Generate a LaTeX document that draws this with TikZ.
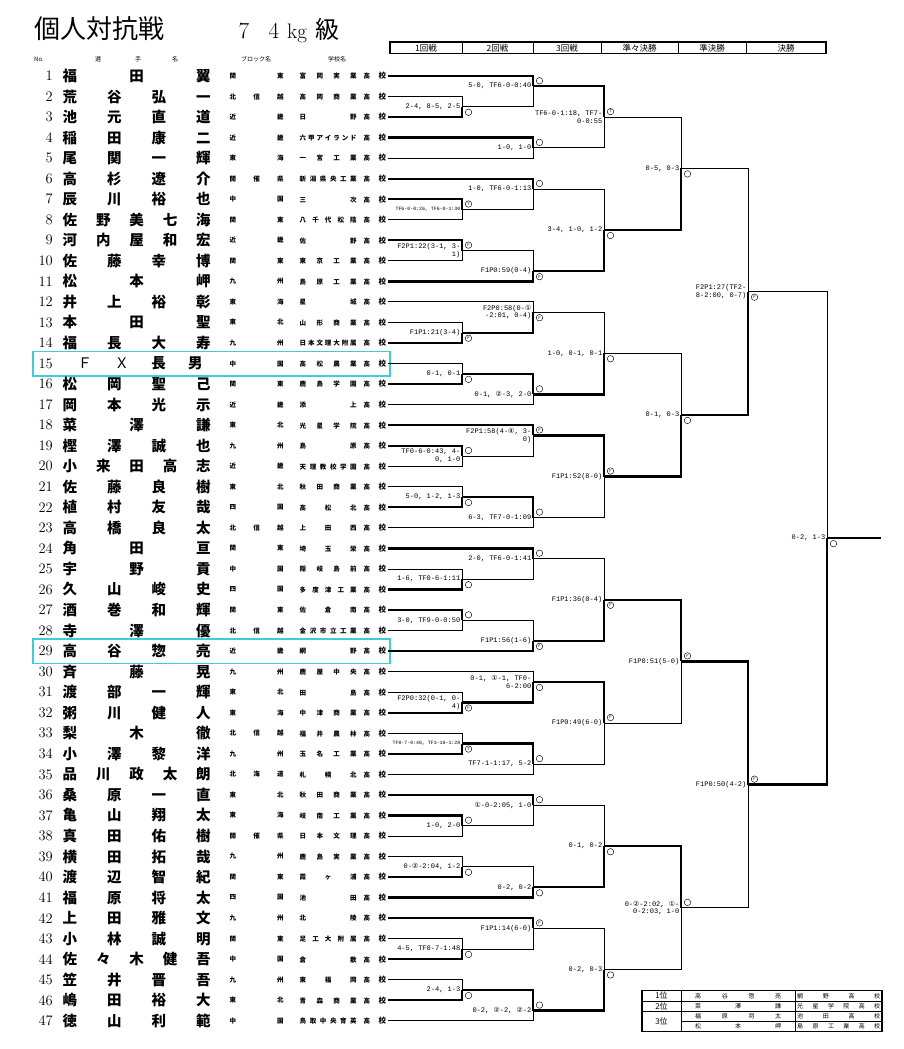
\documentclass[tikz,border=0pt]{standalone}
\usepackage{fontspec}
\newfontfamily\jp{Noto Sans CJK JP}
\newfontfamily\mono{Liberation Mono}
\newfontfamily\dejav{DejaVu Sans}
\newcommand\cn[1]{{\dejav #1}}
\newcommand\Y[1]{{76+(#1-1)*20.54}}
\tikzset{
  win/.style={line width=2.3pt},
  lose/.style={line width=0.9pt},
  lbl/.style={font=\mono\fontsize{7}{7.6}\selectfont, anchor=east, inner sep=0pt, align=right},
  mk/.style={circle, draw, line width=0.45pt, minimum size=6.5pt, inner sep=0pt, font=\sffamily\fontsize{4}{4}\selectfont},
  numf/.style={font=\fontsize{14.5}{14.5}\selectfont, anchor=east, inner sep=0pt},
  namef/.style={font=\jp\bfseries\fontsize{14.5}{14.5}\selectfont, anchor=west, inner sep=0pt},
  smallf/.style={font=\jp\bfseries\fontsize{6.5}{6.5}\selectfont, anchor=west, inner sep=0pt},
  colh/.style={font=\jp\fontsize{8.5}{8.5}\selectfont, inner sep=0pt},
  headf/.style={font=\jp\fontsize{6}{6}\selectfont, inner sep=0pt},
  resf/.style={font=\jp\fontsize{6}{6}\selectfont, anchor=west, inner sep=0pt},
  hl/.style={draw={rgb,255:red,60;green,205;blue,215}, line width=1.8pt},
}
\newcommand\pl[4]{%
  \node[numf] (n#1) at (53,\Y{#1}) {#1};
  \node[namef] (nm#1) at (62.5,\Y{#1}) {\hbox to 148pt{#2}};
  \node[smallf] (b#1) at (229.5,\Y{#1}) {\hbox to 54pt{#3}};
  \node[smallf] (s#1) at (299.5,\Y{#1}) {\hbox to 57pt{#4}\kern7pt 高\kern8.5pt{\fontsize{7.5}{7.5}\selectfont 校}};
  \coordinate (e#1) at (388,\Y{#1});
}
\newcommand\bmatch[8]{%
  \coordinate (#1) at (#4,\Y{#5});
  \if#6u
    \draw[lose] (#3) -- (#3 -| #1) -- (#1);
    \draw[win] (#2) -- (#2 -| #1) -- (#1);
    \node[mk] (#1s) at ([shift={(6.5,-5.5)}]#1) {#8};
  \else
    \draw[lose] (#2) -- (#2 -| #1) -- (#1);
    \draw[win] (#3) -- (#3 -| #1) -- (#1);
    \node[mk] (#1s) at ([shift={(6.5,5.5)}]#1) {#8};
  \fi
  \node[lbl] (#1t) at ([xshift=-1.5pt]#1) {#7};
}
\begin{document}
\begin{tikzpicture}[x=1pt,y=-1pt]
\fill[white] (0,0) rectangle (904,1049);
\useasboundingbox (0,0) rectangle (904,1049);

% title
\node[font=\jp\fontsize{26}{26}\selectfont, anchor=base west, inner sep=0pt] (title) at (34,39) {個人対抗戦};
\node[font=\fontsize{23}{23}\selectfont, anchor=base, inner sep=0pt] (t7) at (244,39) {7};
\node[font=\fontsize{23}{23}\selectfont, anchor=base, inner sep=0pt] (t4) at (274,39) {4};
\node[font=\fontsize{21}{21}\selectfont, anchor=base, inner sep=0pt] (tkg) at (297,39) {kg};
\node[font=\jp\fontsize{24}{24}\selectfont, anchor=base, inner sep=0pt] (tkyu) at (327,38) {級};

% round header table
\draw[line width=1.1pt] (390,42) rectangle (826,53.5);
\foreach \xx in {462,533,601,678,746} \draw[line width=0.6pt] (\xx,42) -- (\xx,53.5);
\node[colh] (h1) at (426,47.8) {1回戦};
\node[colh] (h2) at (497.5,47.8) {2回戦};
\node[colh] (h3) at (567,47.8) {3回戦};
\node[colh] (h4) at (639.5,47.8) {準々決勝};
\node[colh] (h5) at (712,47.8) {準決勝};
\node[colh] (h6) at (786,47.8) {決勝};

% column headings
\node[headf, anchor=west] (hno) at (34,59.5) {No.};
\node[headf] (hs1) at (98,59.5) {選};
\node[headf] (hs2) at (138,59.5) {手};
\node[headf] (hs3) at (175,59.5) {名};
\node[headf] (hblk) at (256,59.5) {ブロック名};
\node[headf] (hsch) at (337,59.5) {学校名};

% highlight boxes
\draw[hl] (33,\Y{14.41}) rectangle (390,\Y{15.59});
\draw[hl] (33,\Y{28.4}) rectangle (390,\Y{29.6});

% players
\pl{1}{福\hfill 田\hfill 翼}{関\hfill 東}{富\hfill 岡\hfill 実\hfill 業}
\pl{2}{荒\hfill 谷\hfill 弘\hfill 一}{北\hfill 信\hfill 越}{高\hfill 岡\hfill 商\hfill 業}
\pl{3}{池\hfill 元\hfill 直\hfill 道}{近\hfill 畿}{日\hfill 野}
\pl{4}{稲\hfill 田\hfill 康\hfill 二}{近\hfill 畿}{六\hfill 甲\hfill ア\hfill イ\hfill ラ\hfill ン\hfill ド}
\pl{5}{尾\hfill 関\hfill 一\hfill 輝}{東\hfill 海}{一\hfill 宮\hfill 工\hfill 業}
\pl{6}{高\hfill 杉\hfill 遼\hfill 介}{開\hfill 催\hfill 県}{新\hfill 潟\hfill 県\hfill 央\hfill 工\hfill 業}
\pl{7}{辰\hfill 川\hfill 裕\hfill 也}{中\hfill 国}{三\hfill 次}
\pl{8}{佐\hfill 野\hfill 美\hfill 七\hfill 海}{関\hfill 東}{八\hfill 千\hfill 代\hfill 松\hfill 陰}
\pl{9}{河\hfill 内\hfill 屋\hfill 和\hfill 宏}{近\hfill 畿}{佐\hfill 野}
\pl{10}{佐\hfill 藤\hfill 幸\hfill 博}{関\hfill 東}{東\hfill 京\hfill 工\hfill 業}
\pl{11}{松\hfill 本\hfill 岬}{九\hfill 州}{島\hfill 原\hfill 工\hfill 業}
\pl{12}{井\hfill 上\hfill 裕\hfill 彰}{東\hfill 海}{星\hfill 城}
\pl{13}{本\hfill 田\hfill 聖}{東\hfill 北}{山\hfill 形\hfill 商\hfill 業}
\pl{14}{福\hfill 長\hfill 大\hfill 寿}{九\hfill 州}{日\hfill 本\hfill 文\hfill 理\hfill 大\hfill 附\hfill 属}
\pl{15}{\kern15pt{\mdseries Ｆ}\hfill{\mdseries Ｘ}\hfill 長\hfill 男\kern8pt}{中\hfill 国}{高\hfill 松\hfill 農\hfill 業}
\pl{16}{松\hfill 岡\hfill 聖\hfill 己}{関\hfill 東}{鹿\hfill 島\hfill 学\hfill 園}
\pl{17}{岡\hfill 本\hfill 光\hfill 示}{近\hfill 畿}{添\hfill 上}
\pl{18}{菜\hfill 澤\hfill 謙}{東\hfill 北}{光\hfill 星\hfill 学\hfill 院}
\pl{19}{樫\hfill 澤\hfill 誠\hfill 也}{九\hfill 州}{島\hfill 原}
\pl{20}{小\hfill 来\hfill 田\hfill 高\hfill 志}{近\hfill 畿}{天\hfill 理\hfill 教\hfill 校\hfill 学\hfill 園}
\pl{21}{佐\hfill 藤\hfill 良\hfill 樹}{東\hfill 北}{秋\hfill 田\hfill 商\hfill 業}
\pl{22}{植\hfill 村\hfill 友\hfill 哉}{四\hfill 国}{高\hfill 松\hfill 北}
\pl{23}{高\hfill 橋\hfill 良\hfill 太}{北\hfill 信\hfill 越}{上\hfill 田\hfill 西}
\pl{24}{角\hfill 田\hfill 亘}{関\hfill 東}{埼\hfill 玉\hfill 栄}
\pl{25}{宇\hfill 野\hfill 貢}{中\hfill 国}{隠\hfill 岐\hfill 島\hfill 前}
\pl{26}{久\hfill 山\hfill 峻\hfill 史}{四\hfill 国}{多\hfill 度\hfill 津\hfill 工\hfill 業}
\pl{27}{酒\hfill 巻\hfill 和\hfill 輝}{関\hfill 東}{佐\hfill 倉\hfill 南}
\pl{28}{寺\hfill 澤\hfill 優}{北\hfill 信\hfill 越}{金\hfill 沢\hfill 市\hfill 立\hfill 工\hfill 業}
\pl{29}{高\hfill 谷\hfill 惣\hfill 亮}{近\hfill 畿}{網\hfill 野}
\pl{30}{斉\hfill 藤\hfill 晃}{九\hfill 州}{鹿\hfill 屋\hfill 中\hfill 央}
\pl{31}{渡\hfill 部\hfill 一\hfill 輝}{東\hfill 北}{田\hfill 島}
\pl{32}{粥\hfill 川\hfill 健\hfill 人}{東\hfill 海}{中\hfill 津\hfill 商\hfill 業}
\pl{33}{梨\hfill 木\hfill 徹}{北\hfill 信\hfill 越}{福\hfill 井\hfill 農\hfill 林}
\pl{34}{小\hfill 澤\hfill 黎\hfill 洋}{九\hfill 州}{玉\hfill 名\hfill 工\hfill 業}
\pl{35}{品\hfill 川\hfill 政\hfill 太\hfill 朗}{北\hfill 海\hfill 道}{札\hfill 幌\hfill 北}
\pl{36}{桑\hfill 原\hfill 一\hfill 直}{東\hfill 北}{秋\hfill 田\hfill 商\hfill 業}
\pl{37}{亀\hfill 山\hfill 翔\hfill 太}{東\hfill 海}{岐\hfill 南\hfill 工\hfill 業}
\pl{38}{真\hfill 田\hfill 佑\hfill 樹}{開\hfill 催\hfill 県}{日\hfill 本\hfill 文\hfill 理}
\pl{39}{横\hfill 田\hfill 拓\hfill 哉}{九\hfill 州}{鹿\hfill 島\hfill 実\hfill 業}
\pl{40}{渡\hfill 辺\hfill 智\hfill 紀}{関\hfill 東}{霞\hfill ヶ\hfill 浦}
\pl{41}{福\hfill 原\hfill 将\hfill 太}{四\hfill 国}{池\hfill 田}
\pl{42}{上\hfill 田\hfill 雅\hfill 文}{九\hfill 州}{北\hfill 陵}
\pl{43}{小\hfill 林\hfill 誠\hfill 明}{関\hfill 東}{足\hfill 工\hfill 大\hfill 附\hfill 属}
\pl{44}{佐\hfill 々\hfill 木\hfill 健\hfill 吾}{中\hfill 国}{倉\hfill 敷}
\pl{45}{笠\hfill 井\hfill 晋\hfill 吾}{九\hfill 州}{東\hfill 福\hfill 岡}
\pl{46}{嶋\hfill 田\hfill 裕\hfill 大}{東\hfill 北}{青\hfill 森\hfill 商\hfill 業}
\pl{47}{徳\hfill 山\hfill 利\hfill 範}{中\hfill 国}{鳥\hfill 取\hfill 中\hfill 央\hfill 育\hfill 英}

% bracket, upper half
\bmatch{A1}{e2}{e3}{462}{2.5}{l}{2-4, 8-5, 2-5}{}
\bmatch{A2}{e1}{A1}{533}{1.5}{u}{5-0, TF6-0-0:40}{}
\bmatch{A3}{e4}{e5}{533}{4.5}{u}{1-0, 1-0}{}
\bmatch{A4}{A2}{A3}{604}{3}{u}{TF6-0-1:18, TF7-\\0-0:55}{T}
\bmatch{B1}{e7}{e8}{462}{7.5}{u}{\fontsize{4.9}{5}\selectfont TF6-0-0:26, TF6-0-1:30}{T}
\bmatch{B2}{e6}{B1}{533}{6.5}{u}{1-0, TF6-0-1:13}{}
\bmatch{B3}{e9}{e10}{462}{9.5}{u}{F2P1:22(3-1, 3-\\1)}{F}
\bmatch{B4}{B3}{e11}{533}{10.5}{l}{F1P0:59(0-4)}{F}
\bmatch{B5}{B2}{B4}{604}{8.5}{l}{3-4, 1-0, 1-2}{}
\bmatch{Q1}{A4}{B5}{681}{5.5}{l}{0-5, 0-3}{}
\bmatch{C1}{e13}{e14}{462}{13.5}{l}{F1P1:21(3-4)}{F}
\bmatch{C2}{e12}{C1}{533}{12.5}{l}{F2P0:58(0-\cn{①}\\-2:01, 0-4)}{F}
\bmatch{C3}{e15}{e16}{462}{15.5}{l}{0-1, 0-1}{}
\bmatch{C4}{C3}{e17}{533}{16.5}{u}{0-1, \cn{②}-3, 2-0}{}
\bmatch{C5}{C2}{C4}{604}{14.5}{l}{1-0, 0-1, 0-1}{}
\bmatch{D1}{e19}{e20}{462}{19.5}{u}{TF0-6-0:43, 4-\\0, 1-0}{}
\bmatch{D2}{e18}{D1}{533}{18.5}{u}{F2P1:58(4-\cn{④}, 3-\\0)}{F}
\bmatch{D3}{e21}{e22}{462}{21.5}{l}{5-0, 1-2, 1-3}{}
\bmatch{D4}{D3}{e23}{533}{22.5}{u}{6-3, TF7-0-1:09}{}
\bmatch{D5}{D2}{D4}{604}{20.5}{u}{F1P1:52(8-0)}{F}
\bmatch{Q2}{C5}{D5}{681}{17.5}{l}{0-1, 0-3}{}
\bmatch{S1}{Q1}{Q2}{748}{11.5}{l}{F2P1:27(TF2-\\8-2:00, 0-7)}{F}

% bracket, lower half
\bmatch{E1}{e25}{e26}{462}{25.5}{l}{1-6, TF0-6-1:11}{}
\bmatch{E2}{e24}{E1}{533}{24.5}{u}{2-0, TF6-0-1:41}{}
\bmatch{E3}{e27}{e28}{462}{27.5}{u}{3-0, TF9-0-0:50}{}
\bmatch{E4}{E3}{e29}{533}{28.5}{l}{F1P1:56(1-6)}{F}
\bmatch{E5}{E2}{E4}{604}{26.5}{l}{F1P1:36(0-4)}{F}
\bmatch{F1}{e31}{e32}{462}{31.5}{l}{F2P0:32(0-1, 0-\\4)}{F}
\bmatch{F2}{e30}{F1}{533}{30.5}{l}{0-1, \cn{①}-1, TF0-\\6-2:00}{}
\bmatch{F3}{e33}{e34}{462}{33.5}{l}{\fontsize{4.9}{5}\selectfont TF0-7-0:46, TF3-10-1:28}{T}
\bmatch{F4}{F3}{e35}{533}{34.5}{u}{TF7-1-1:17, 5-2}{}
\bmatch{F5}{F2}{F4}{604}{32.5}{u}{F1P0:49(6-0)}{F}
\bmatch{Q3}{E5}{F5}{681}{29.5}{u}{F1P0:51(5-0)}{F}
\bmatch{G1}{e37}{e38}{462}{37.5}{u}{1-0, 2-0}{}
\bmatch{G2}{e36}{G1}{533}{36.5}{u}{\cn{①}-0-2:05, 1-0}{}
\bmatch{G3}{e39}{e40}{462}{39.5}{l}{0-\cn{②}-2:04, 1-2}{}
\bmatch{G4}{G3}{e41}{533}{40.5}{l}{0-2, 0-2}{}
\bmatch{G5}{G2}{G4}{604}{38.5}{l}{0-1, 0-2}{}
\bmatch{H1}{e43}{e44}{462}{43.5}{l}{4-5, TF0-7-1:48}{}
\bmatch{H2}{e42}{H1}{533}{42.5}{u}{F1P1:14(6-0)}{F}
\bmatch{H3}{e45}{e46}{462}{45.5}{l}{2-4, 1-3}{}
\bmatch{H4}{H3}{e47}{533}{46.5}{u}{0-2, \cn{②}-2, \cn{②}-2}{}
\bmatch{H5}{H2}{H4}{604}{44.5}{l}{0-2, 0-3}{}
\bmatch{Q4}{G5}{H5}{681}{41.5}{u}{0-\cn{②}-2:02, \cn{①}-\\0-2:03, 1-0}{}
\bmatch{S2}{Q3}{Q4}{748}{35.5}{u}{F1P0:50(4-2)}{F}

% final
\bmatch{FN}{S1}{S2}{827}{23.5}{l}{0-2, 1-3}{}
\coordinate (champ) at (881,\Y{23.5});
\draw[win] (FN) -- (champ);

% results table
\draw[line width=1.2pt] (642,990.7) rectangle (882,1031.7);
\draw[line width=0.6pt] (642,1001) -- (882,1001);
\draw[line width=0.6pt] (642,1011.7) -- (882,1011.7);
\draw[line width=0.6pt] (681,1021.7) -- (882,1021.7);
\draw[line width=0.6pt] (681,990.7) -- (681,1031.7);
\draw[line width=0.6pt] (795,990.7) -- (795,1031.7);
\node[font=\jp\fontsize{8}{8}\selectfont, inner sep=0pt] (r1) at (661.5,995.9) {1位};
\node[font=\jp\fontsize{8}{8}\selectfont, inner sep=0pt] (r2) at (661.5,1006.4) {2位};
\node[font=\jp\fontsize{8}{8}\selectfont, inner sep=0pt] (r3) at (661.5,1021.7) {3位};
\node[resf] (rn1) at (695,995.9) {\hbox to 86pt{高\hfill 谷\hfill 惣\hfill 亮}};
\node[resf] (rs1) at (797,995.9) {\hbox to 83pt{網\hfill 野\hfill 高\hfill 校}};
\node[resf] (rn2) at (695,1006.4) {\hbox to 86pt{菜\hfill 澤\hfill 謙}};
\node[resf] (rs2) at (797,1006.4) {\hbox to 83pt{光\hfill 星\hfill 学\hfill 院\hfill 高\hfill 校}};
\node[resf] (rn3) at (695,1016.7) {\hbox to 86pt{福\hfill 原\hfill 将\hfill 太}};
\node[resf] (rs3) at (797,1016.7) {\hbox to 83pt{池\hfill 田\hfill 高\hfill 校}};
\node[resf] (rn4) at (695,1026.7) {\hbox to 86pt{松\hfill 本\hfill 岬}};
\node[resf] (rs4) at (797,1026.7) {\hbox to 83pt{島\hfill 原\hfill 工\hfill 業\hfill 高\hfill 校}};
\end{tikzpicture}
\end{document}
